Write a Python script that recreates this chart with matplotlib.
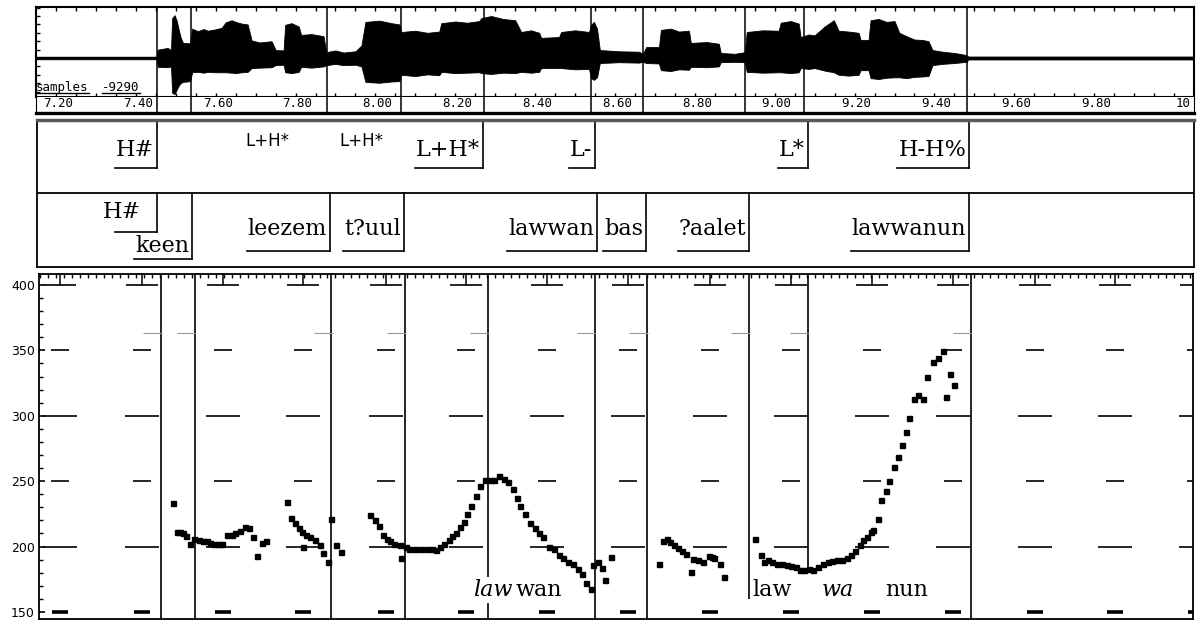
import numpy as np
import matplotlib.pyplot as plt
from matplotlib.lines import Line2D
from matplotlib.transforms import IdentityTransform

W, H = 1197, 621
PX = 399.3  # pixels per second on the time axis

# waveform envelope (samples)
wave_t = [7.100, 7.402, 7.405, 7.430, 7.438, 7.441, 7.447, 7.452, 7.458, 7.462,
          7.468, 7.486, 7.491, 7.505, 7.520, 7.530, 7.548, 7.565, 7.575, 7.590,
          7.600, 7.615, 7.630, 7.640, 7.660, 7.690, 7.700, 7.720, 7.724, 7.740,
          7.758, 7.764, 7.790, 7.820, 7.827, 7.850, 7.870, 7.900, 7.915, 7.925,
          7.960, 7.990, 8.010, 8.015, 8.050, 8.080, 8.110, 8.115, 8.150, 8.180,
          8.210, 8.215, 8.240, 8.270, 8.300, 8.315, 8.340, 8.360, 8.365, 8.410,
          8.415, 8.450, 8.485, 8.490, 8.497, 8.505, 8.512, 8.560, 8.610, 8.620,
          8.628, 8.660, 8.665, 8.690, 8.710, 8.735, 8.740, 8.780, 8.810, 8.815,
          8.850, 8.875, 8.880, 8.920, 8.960, 8.965, 8.990, 9.010, 9.015, 9.035,
          9.050, 9.075, 9.098, 9.110, 9.135, 9.160, 9.165, 9.185, 9.190, 9.210,
          9.230, 9.250, 9.262, 9.280, 9.300, 9.320, 9.335, 9.345, 9.370, 9.400,
          9.430, 9.435, 10.000]
wave_hi = [300, 300, 2000, 2400, 1900, 9500, 10200, 9000, 6500, 5000,
           3600, 3500, 7000, 6400, 6900, 6500, 6800, 7200, 8500, 9000,
           8600, 8200, 8000, 4200, 3700, 4000, 1900, 1800, 7900, 8300,
           7500, 5500, 5700, 5200, 1400, 1800, 1300, 1600, 3000, 8600,
           8900, 8300, 8000, 6200, 6500, 6000, 6300, 8300, 8700, 8400,
           8800, 9500, 10000, 9300, 9000, 6200, 6600, 6000, 4800, 5000,
           6200, 6600, 6200, 7900, 8600, 7000, 1900, 1600, 1500, 1000,
           2600, 2600, 6700, 7000, 6300, 6500, 3600, 3800, 3400, 1200,
           1000, 1400, 6200, 6600, 6500, 8400, 8800, 8200, 5000, 5600,
           5400, 7500, 9000, 6500, 6300, 6000, 4300, 4300, 9000, 9300,
           8600, 8800, 6000, 5200, 4400, 4300, 4000, 1900, 1500, 1200,
           700, 350, 350]
wave_lo = [-300, -300, -2100, -2200, -2000, -8300, -8600, -7600, -6500, -6000,
           -5700, -5500, -3400, -3300, -3500, -3300, -3400, -3400, -3400, -3500,
           -3600, -3400, -3300, -2400, -2300, -2200, -1700, -1600, -3400, -3600,
           -3300, -2100, -2300, -2000, -1700, -1400, -1700, -1600, -2000, -5700,
           -5900, -5600, -5500, -4000, -4300, -3900, -4100, -3300, -3600, -3500,
           -3400, -3600, -3800, -3500, -3600, -3300, -3500, -3300, -2400, -2400,
           -2400, -2700, -2600, -4800, -5200, -4600, -1200, -1000, -1100, -900,
           -1200, -1300, -2900, -3100, -2700, -2800, -2100, -2200, -2000, -1000,
           -900, -1000, -3300, -3500, -3400, -3400, -3600, -3400, -2400, -2600,
           -2400, -3000, -3400, -4000, -4200, -4000, -2900, -2900, -4800, -5000,
           -4700, -4600, -4600, -4800, -4500, -4400, -4300, -1700, -1400, -1200,
           -900, -350, -350]

# segment marks (s)
marks = [7.403, 7.488, 7.830, 8.013, 8.221, 8.490, 8.620, 8.875, 9.024, 9.432]

# time scale labels
time_ticks = [7.2, 7.4, 7.6, 7.8, 8.0, 8.2, 8.4, 8.6, 8.8, 9.0, 9.2, 9.4, 9.6, 9.8, 10.0]
time_labels = ['7.20', '7.40', '7.60', '7.80', '8.00', '8.20', '8.40', '8.60',
               '8.80', '9.00', '9.20', '9.40', '9.60', '9.80', '10']

# tone tier
tones = ['H#', 'L+H*', 'L-', 'L*', 'H-H%']
tone_t = [7.403, 8.219, 8.500, 9.033, 9.437]
extra_tones = ['L+H*', 'L+H*']
extra_tone_t = [7.734, 7.969]

# word tier
words = ['H#', 'keen', 'leezem', 't?uul', 'lawwan', 'bas', '?aalet', 'lawwanun']
word_t = [7.403, 7.491, 7.836, 8.022, 8.505, 8.628, 8.886, 9.437]
word_row = [0, 2, 1, 1, 1, 1, 1, 1]

# F0 track (Hz)
f0_t = [7.433, 7.443, 7.451, 7.458, 7.466, 7.476, 7.486, 7.498, 7.508, 7.518,
        7.526, 7.536, 7.546, 7.556, 7.568, 7.581, 7.588, 7.601, 7.613, 7.623,
        7.633, 7.643, 7.656, 7.666,
        7.719, 7.729, 7.739, 7.749, 7.756, 7.758, 7.766, 7.776, 7.789, 7.801,
        7.809, 7.821, 7.829, 7.841, 7.854,
        7.926, 7.939, 7.949, 7.959, 7.969, 7.977, 7.987, 8.002, 8.004, 8.017,
        8.024, 8.039, 8.054, 8.069, 8.082, 8.092, 8.102, 8.112, 8.124, 8.132,
        8.142, 8.152, 8.162, 8.169, 8.179, 8.192, 8.202, 8.214, 8.227, 8.237,
        8.250, 8.262, 8.272, 8.285, 8.295, 8.302, 8.315, 8.327, 8.340, 8.350,
        8.360, 8.375, 8.387, 8.400, 8.410, 8.422, 8.435, 8.447, 8.457, 8.467,
        8.480,
        8.485, 8.497, 8.507, 8.515, 8.530,
        8.650, 8.660, 8.670, 8.678, 8.688, 8.698, 8.708, 8.718, 8.730, 8.735,
        8.748, 8.760, 8.775, 8.783, 8.788, 8.803, 8.813,
        8.891, 8.906, 8.913, 8.923, 8.933, 8.946, 8.958, 8.971, 8.981, 8.993,
        9.003, 9.013, 9.026, 9.036, 9.048, 9.061, 9.073, 9.083, 9.096, 9.108,
        9.121, 9.131, 9.141, 9.154, 9.161, 9.171, 9.181, 9.186, 9.199, 9.206,
        9.219, 9.226, 9.239, 9.249, 9.259, 9.269, 9.276, 9.289, 9.299, 9.311,
        9.321, 9.336, 9.349, 9.362, 9.369, 9.379, 9.389]
f0_hz = [233, 211, 211, 210, 208, 202, 206, 205, 204, 204,
         203, 202, 202, 202, 209, 209, 210, 212, 215, 214,
         207, 193, 203, 204,
         234, 222, 218, 214, 211, 200, 209, 207, 205, 201,
         195, 188, 221, 201, 196,
         224, 220, 216, 209, 206, 204, 202, 201, 191, 200,
         198.5, 198, 198, 198, 198, 197, 200, 202, 205, 208,
         210.5, 215, 219, 225, 231, 238.5, 246, 251, 251, 251,
         254, 252, 249, 244, 237.5, 231, 225, 218, 214, 210.5,
         207, 200, 198, 193.5, 191, 188, 186.5, 183, 179, 172,
         167.5,
         186, 188, 183.6, 174.5, 192,
         187, 204, 206, 203.6, 201, 199, 196.7, 194.6, 180.6, 190.8,
         190, 188.3, 192.6, 192, 191, 186.5, 176.8,
         206, 193.4, 188.3, 189.5, 188.3, 187, 186.5, 185.7, 185, 184,
         182, 182, 183.2, 182, 184, 186.5, 188.3, 189, 189.5, 190,
         191.6, 193.4, 196.7, 201, 204.8, 207, 211, 213, 221.4, 235.5,
         242.6, 250.3, 261, 268.6, 277.6, 287.8, 298, 312.5, 315.8, 312.5,
         329.3, 341.3, 344, 349.7, 314, 331.9, 323.5]

# syllable labels inside the F0 panel
syll = ['law', 'wan', 'law', 'wa', 'nun']
syll_t = [8.184, 8.290, 8.883, 9.058, 9.216]
syll_italic = [True, False, False, True, False]

# F0 panel reference dashes
grid_t = np.array([7.150, 7.355, 7.558, 7.759, 7.966, 8.167, 8.370, 8.573,
                   8.778, 8.981, 9.184, 9.387, 9.592, 9.792, 9.995])
grid_hz = [400, 350, 300, 250, 200, 150]
grid_half_px = [16, 9, 17, 9, 17, 8]
grid_lw = [1.2, 1.2, 1.2, 1.2, 1.2, 2.6]
mark_floor = {8.875: 160, 9.024: 180}

SERIF = 'DejaVu Serif'
MONO = 'DejaVu Sans Mono'

fig = plt.figure(figsize=(W / 100, H / 100), dpi=100)


def panel(x0, y0, x1, y1):
    return fig.add_axes([x0 / W, 1 - y1 / H, (x1 - x0) / W, (y1 - y0) / H])


# ---- waveform ----
ax_w = panel(36, 7, 1194, 97)
ax_w.fill_between(wave_t, wave_lo, wave_hi, color='k', lw=0.6)
ax_w.axhline(0, color='k', lw=1.5)
for m in marks:
    ax_w.axvline(m, color='k', lw=1.1)
ax_w.set_xlim(7.10, 10.0)
ax_w.set_ylim(-9290, 12150)
ax_w.set_xticks(np.arange(7.15, 10.0, 0.05))
ax_w.set_yticks(np.arange(-8000, 12001, 2000))
ax_w.tick_params(which='both', direction='in', length=3, width=1,
                 top=True, bottom=True, left=True, right=False,
                 labelbottom=False, labelleft=False)
for s in ax_w.spines.values():
    s.set_linewidth(1.5)
t1 = ax_w.text(0.0, 0.03, 'samples', transform=ax_w.transAxes, family=MONO,
               size=9, ha='left', va='bottom')
t2 = ax_w.text(0.057, 0.03, '-9290', transform=ax_w.transAxes, family=MONO,
               size=9, ha='left', va='bottom')

# ---- time scale ----
ax_t = panel(36, 97, 1194, 113)
ax_t.set_xlim(7.10, 10.0)
ax_t.set_ylim(0, 1)
ax_t.set_xticks([])
ax_t.set_yticks([])
ax_t.spines['top'].set_visible(False)
ax_t.spines['bottom'].set_linewidth(2.4)
for m in marks:
    ax_t.axvline(m, color='k', lw=1.1)
for t, lab in zip(time_ticks, time_labels):
    ax_t.text(t - 3 / PX, 0.2, lab, family=MONO, size=9, ha='right',
              va='bottom')

# ---- label tiers ----
ax_l = panel(37, 120, 1194, 267)
ax_l.set_xlim(7.1025, 10.0)
ax_l.set_ylim(267, 120)
ax_l.set_xticks([])
ax_l.set_yticks([])
for s in ax_l.spines.values():
    s.set_linewidth(1.3)
ax_l.spines['top'].set_color('0.35')
ax_l.spines['top'].set_linewidth(2.5)
ax_l.axhline(193, color='k', lw=1.3)

tone_texts = []
for t, lab in zip(tone_t, tones):
    tx = ax_l.text(t - 3 / PX, 156, lab, family=SERIF, size=16, ha='right',
                   va='baseline')
    tone_texts.append(tx)
    ax_l.plot([t, t], [120, 168], color='k', lw=1.2)
for t, lab in zip(extra_tone_t, extra_tones):
    ax_l.text(t, 146, lab, family='DejaVu Sans', size=12, ha='right',
              va='baseline')

row_base = {0: 218, 1: 235, 2: 252}
row_line = {0: 232, 1: 251, 2: 259}
row_gap = {0: 16, 1: 3, 2: 3}
word_texts = []
for t, lab, r in zip(word_t, words, word_row):
    tx = ax_l.text(t - row_gap[r] / PX, row_base[r], lab, family=SERIF,
                   size=16, ha='right', va='baseline')
    word_texts.append(tx)
    ax_l.plot([t, t], [193, row_line[r]], color='k', lw=1.2)

# ---- F0 track ----
ax_p = panel(39, 274, 1193, 619)
ax_p.set_xlim(7.0975, 9.9875)
ax_p.set_ylim(144.6, 408.4)
top = 408.4
for hz, hw, lw in zip(grid_hz, grid_half_px, grid_lw):
    ax_p.hlines(np.full(len(grid_t), hz), grid_t - hw / PX, grid_t + hw / PX,
                color='k', lw=lw, zorder=2)
ax_p.vlines(grid_t, 400, top, color='k', lw=1.1, zorder=2)
for m in marks:
    ax_p.vlines(m, mark_floor.get(m, 144.6), top, color='k', lw=1.2,
                zorder=2)
mk = np.array(marks)
ax_p.hlines(np.full(len(mk), 363), mk - 0.045, mk + 0.003,
            color='0.6', lw=0.8, zorder=2)
ax_p.plot(f0_t, f0_hz, 's', ms=3.6, color='k', zorder=4)
for t, lab, it in zip(syll_t, syll, syll_italic):
    ax_p.text(t, 162, lab, family=SERIF, size=16,
              style='italic' if it else 'normal', ha='left', va='baseline',
              zorder=3, bbox=dict(fc='white', ec='none', pad=1.5))

ax_p.set_yticks([150, 200, 250, 300, 350, 400])
ax_p.set_yticks(np.arange(150, 401, 10), minor=True)
ax_p.set_xticks(np.arange(7.10, 9.99, 0.02))
ax_p.tick_params(axis='y', which='major', direction='in', length=4, width=1.2,
                 labelsize=9, pad=3)
ax_p.tick_params(axis='y', which='minor', direction='in', length=3, width=1)
ax_p.tick_params(axis='x', direction='in', length=3, width=1, top=True,
                 bottom=False, labelbottom=False)
for s in ax_p.spines.values():
    s.set_linewidth(1.3)

# underlines under the tier labels and the sample readout
fig.canvas.draw()
renderer = fig.canvas.get_renderer()
for tx, t in zip(tone_texts, tone_t):
    w = tx.get_window_extent(renderer).width
    ax_l.plot([t - (w + 4) / PX, t], [168, 168], color='k', lw=1.2)
for tx, t, r in zip(word_texts, word_t, word_row):
    w = tx.get_window_extent(renderer).width
    ax_l.plot([t - (w + 4) / PX, t], [row_line[r], row_line[r]], color='k',
              lw=1.2)
for tx in (t1, t2):
    bb = tx.get_window_extent(renderer)
    fig.add_artist(Line2D([bb.x0, bb.x1], [bb.y0 + 1, bb.y0 + 1], color='k',
                          lw=1, transform=IdentityTransform()))

fig.savefig('out.png', dpi=100)
